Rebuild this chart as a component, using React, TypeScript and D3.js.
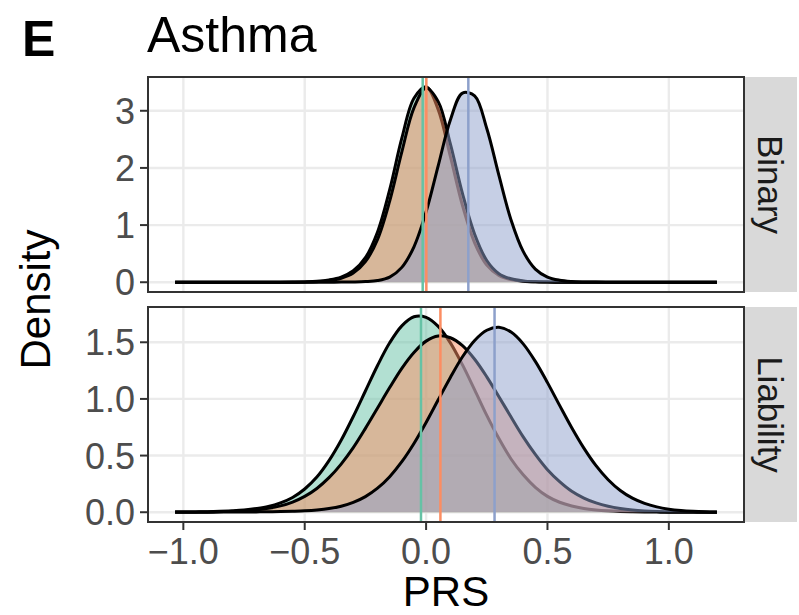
import React from "react";
import * as d3 from "d3";

// PRS evaluation grid shared by every density curve
const PRS_GRID = [
  -1.034, -1.0, -0.95, -0.9, -0.85, -0.8, -0.75, -0.7, -0.65, -0.6,
  -0.55, -0.5, -0.45, -0.4, -0.35, -0.3, -0.25, -0.2, -0.15, -0.1,
  -0.05, 0, 0.05, 0.1, 0.15, 0.2, 0.25, 0.3, 0.35, 0.4,
  0.45, 0.5, 0.55, 0.6, 0.65, 0.7, 0.75, 0.8, 0.85, 0.9,
  0.95, 1.0, 1.05, 1.1, 1.15, 1.198,
];

const GROUP_COLORS = ["#66C2A5", "#FC8D62", "#8DA0CB"];

// Binary panel densities
const BINARY_GREEN = [
  0, 0, 0, 0, 0, 0, 0, 0, 0, 0,
  0.002, 0.006, 0.015, 0.04, 0.09, 0.2, 0.43, 0.88, 1.62, 2.52,
  3.22, 3.42, 3.02, 2.2, 1.34, 0.69, 0.3, 0.12, 0.045, 0.018,
  0.007, 0.003, 0, 0, 0, 0, 0, 0, 0, 0,
  0, 0, 0, 0, 0, 0,
];
const BINARY_ORANGE = [
  0, 0, 0, 0, 0, 0, 0, 0, 0, 0,
  0.001, 0.004, 0.01, 0.028, 0.07, 0.16, 0.36, 0.75, 1.42, 2.28,
  3.05, 3.4, 3.16, 2.42, 1.55, 0.84, 0.38, 0.15, 0.06, 0.022,
  0.008, 0.003, 0, 0, 0, 0, 0, 0, 0, 0,
  0, 0, 0, 0, 0, 0,
];
const BINARY_BLUE = [
  0, 0, 0, 0, 0, 0, 0, 0, 0, 0,
  0, 0, 0, 0.001, 0.002, 0.005, 0.012, 0.03, 0.09, 0.26,
  0.62, 1.23, 2.04, 2.84, 3.31, 3.26, 2.69, 1.87, 1.09, 0.54,
  0.23, 0.09, 0.035, 0.013, 0.005, 0.002, 0, 0, 0, 0,
  0, 0, 0, 0, 0, 0,
];
const BINARY_MEANS = [-0.014, 0.001, 0.174];

// Liability panel densities
const LIABILITY_GREEN = [
  0.001, 0.002, 0.003, 0.005, 0.008, 0.013, 0.02, 0.032, 0.05, 0.082,
  0.13, 0.205, 0.31, 0.455, 0.635, 0.845, 1.07, 1.295, 1.495, 1.645,
  1.725, 1.72, 1.64, 1.495, 1.3, 1.08, 0.855, 0.65, 0.47, 0.33,
  0.22, 0.14, 0.088, 0.055, 0.033, 0.02, 0.012, 0.007, 0.004, 0.002,
  0.001, 0, 0, 0, 0, 0,
];
const LIABILITY_ORANGE = [
  0.001, 0.001, 0.002, 0.003, 0.005, 0.007, 0.012, 0.02, 0.034, 0.056,
  0.09, 0.14, 0.21, 0.305, 0.425, 0.57, 0.74, 0.92, 1.1, 1.27,
  1.41, 1.51, 1.555, 1.54, 1.47, 1.35, 1.195, 1.02, 0.84, 0.665,
  0.51, 0.375, 0.27, 0.185, 0.125, 0.082, 0.052, 0.032, 0.019, 0.011,
  0.006, 0.003, 0.002, 0.001, 0, 0,
];
const LIABILITY_BLUE = [
  0, 0, 0, 0, 0.001, 0.001, 0.002, 0.003, 0.004, 0.006,
  0.009, 0.013, 0.02, 0.032, 0.053, 0.087, 0.138, 0.212, 0.314, 0.446,
  0.607, 0.792, 0.992, 1.19, 1.372, 1.516, 1.606, 1.632, 1.59, 1.486,
  1.331, 1.144, 0.943, 0.746, 0.566, 0.411, 0.287, 0.192, 0.124, 0.078,
  0.047, 0.027, 0.015, 0.008, 0.004, 0.002,
];
const LIABILITY_MEANS = [-0.021, 0.059, 0.282];

const X_TICKS = [-1.0, -0.5, 0, 0.5, 1.0];
const BINARY_TICKS = [0, 1, 2, 3];
const LIABILITY_TICKS = [0, 0.5, 1.0, 1.5];

const FONT = "'Liberation Sans', Arial, Helvetica, sans-serif";
const W = 799;
const H = 615;
const PANEL_LEFT = 148;
const PANEL_RIGHT = 744;
const STRIP_RIGHT = 797;
const TICK_FONT = 36;
const STRIP_FONT = 35;

const fmtX = (v: number) => d3.format(".1f")(v).replace("-", "\u2212");

const panels = [
  {
    label: "Binary",
    top: 77,
    bottom: 292,
    series: [BINARY_GREEN, BINARY_ORANGE, BINARY_BLUE],
    means: BINARY_MEANS,
    ticks: BINARY_TICKS,
    fmt: d3.format("d"),
  },
  {
    label: "Liability",
    top: 307,
    bottom: 522,
    series: [LIABILITY_GREEN, LIABILITY_ORANGE, LIABILITY_BLUE],
    means: LIABILITY_MEANS,
    ticks: LIABILITY_TICKS,
    fmt: d3.format(".1f"),
  },
];

export default function App() {
  const xExt = d3.extent(PRS_GRID) as [number, number];
  const xPad = (xExt[1] - xExt[0]) * 0.05;
  const x = d3
    .scaleLinear()
    .domain([xExt[0] - xPad, xExt[1] + xPad])
    .range([PANEL_LEFT, PANEL_RIGHT]);

  return (
    <svg
      width={W}
      height={H}
      viewBox={`0 0 ${W} ${H}`}
      style={{ position: "absolute", left: 0, top: 0, background: "#fff" }}
      fontFamily={FONT}
    >
      <rect x={0} y={0} width={W} height={H} fill="#fff" />
      <text x={22} y={56} fontSize={50} fontWeight="bold" fill="#000">
        E
      </text>
      <text x={147} y={52} fontSize={50} fill="#000">
        Asthma
      </text>

      {panels.map((p, pi) => {
        const yMax = d3.max(p.series.flat()) as number;
        const yPad = yMax * 0.05;
        const y = d3
          .scaleLinear()
          .domain([-yPad, yMax + yPad])
          .range([p.bottom, p.top]);
        const area = d3
          .area<[number, number]>()
          .x((d) => x(d[0]))
          .y0(y(0))
          .y1((d) => y(d[1]))
          .curve(d3.curveCatmullRom.alpha(0.5));
        const line = d3
          .line<[number, number]>()
          .x((d) => x(d[0]))
          .y((d) => y(d[1]))
          .curve(d3.curveCatmullRom.alpha(0.5));
        const clipId = `clip-${pi}`;
        const midY = (p.top + p.bottom) / 2;
        return (
          <g key={p.label}>
            <defs>
              <clipPath id={clipId}>
                <rect x={PANEL_LEFT} y={p.top} width={PANEL_RIGHT - PANEL_LEFT} height={p.bottom - p.top} />
              </clipPath>
            </defs>
            <rect x={PANEL_LEFT} y={p.top} width={PANEL_RIGHT - PANEL_LEFT} height={p.bottom - p.top} fill="#fff" />
            <g clipPath={`url(#${clipId})`}>
              {X_TICKS.map((t) => (
                <line key={`gx${t}`} x1={x(t)} x2={x(t)} y1={p.top} y2={p.bottom} stroke="#EBEBEB" strokeWidth={2.4} />
              ))}
              {p.ticks.map((t) => (
                <line key={`gy${t}`} x1={PANEL_LEFT} x2={PANEL_RIGHT} y1={y(t)} y2={y(t)} stroke="#EBEBEB" strokeWidth={2.4} />
              ))}
              {p.series.map((vals, gi) => {
                const pts = PRS_GRID.map((g, i) => [g, vals[i]] as [number, number]);
                return (
                  <g key={gi}>
                    <path d={area(pts) || ""} fill={GROUP_COLORS[gi]} fillOpacity={0.5} />
                    <path d={line(pts) || ""} fill="none" stroke="#000" strokeWidth={3} strokeLinejoin="round" />
                  </g>
                );
              })}
              {p.means.map((m, gi) => (
                <line key={`m${gi}`} x1={x(m)} x2={x(m)} y1={p.top} y2={p.bottom} stroke={GROUP_COLORS[gi]} strokeWidth={2.5} />
              ))}
            </g>
            <rect
              x={PANEL_LEFT}
              y={p.top}
              width={PANEL_RIGHT - PANEL_LEFT}
              height={p.bottom - p.top}
              fill="none"
              stroke="#333333"
              strokeWidth={2}
            />
            {/* y axis */}
            {p.ticks.map((t) => (
              <g key={`ty${t}`}>
                <line x1={PANEL_LEFT - 8} x2={PANEL_LEFT} y1={y(t)} y2={y(t)} stroke="#333333" strokeWidth={2} />
                <text x={PANEL_LEFT - 13} y={y(t)} dy="0.36em" textAnchor="end" fontSize={TICK_FONT} fill="#4D4D4D">
                  {p.fmt(t)}
                </text>
              </g>
            ))}
            {/* facet strip */}
            <rect x={PANEL_RIGHT + 1} y={p.top} width={STRIP_RIGHT - PANEL_RIGHT - 1} height={p.bottom - p.top} fill="#D9D9D9" />
            <text
              transform={`translate(${(PANEL_RIGHT + 1 + STRIP_RIGHT) / 2},${midY}) rotate(90)`}
              textAnchor="middle"
              dy="0.36em"
              fontSize={STRIP_FONT}
              fill="#1A1A1A"
            >
              {p.label}
            </text>
          </g>
        );
      })}

      {/* x axis under the lower panel */}
      {X_TICKS.map((t) => (
        <g key={`tx${t}`}>
          <line x1={x(t)} x2={x(t)} y1={522} y2={530} stroke="#333333" strokeWidth={2} />
          <text x={x(t)} y={564} textAnchor="middle" fontSize={TICK_FONT} fill="#4D4D4D">
            {fmtX(t)}
          </text>
        </g>
      ))}
      <text x={(PANEL_LEFT + PANEL_RIGHT) / 2} y={606} textAnchor="middle" fontSize={42} fill="#000">
        PRS
      </text>
      <text
        transform={`translate(50,${(77 + 522) / 2}) rotate(-90)`}
        textAnchor="middle"
        fontSize={42}
        fill="#000"
      >
        Density
      </text>
    </svg>
  );
}
